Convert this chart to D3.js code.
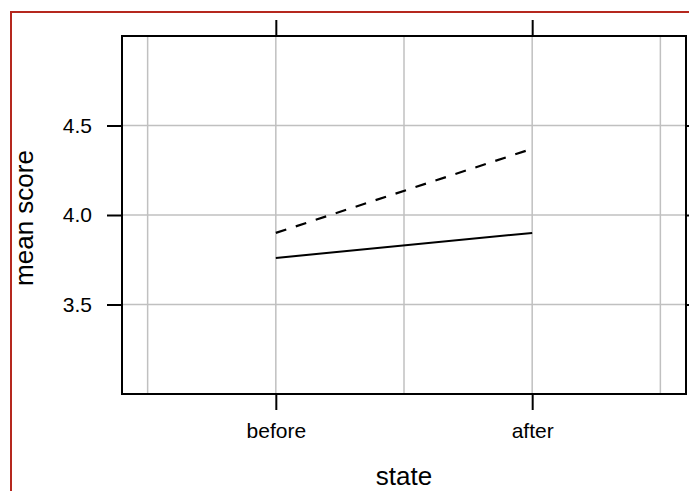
<!DOCTYPE html>
<html>
<head>
<meta charset="utf-8">
<script src="https://cdn.jsdelivr.net/npm/d3@7"></script>
<style>
  html, body { margin: 0; padding: 0; background: #fff; }
  svg { display: block; }
  text { font-family: "Liberation Sans", Arial, Helvetica, sans-serif; fill: #000; }
</style>
</head>
<body>
<svg id="chart" width="689" height="491"></svg>
<script>
// ---- data ----
const categories = ["before", "after"];
const seriesNames = ["group1", "group2"];
const solidValues = [3.76, 3.90];
const dashedValues = [3.90, 4.37];
const yTicks = [3.5, 4.0, 4.5];
const yTickLabels = ["3.5", "4.0", "4.5"];
const xGrid = [0.5, 1, 1.5, 2, 2.5];
const yGrid = [3.5, 4.0, 4.5];

const svg = d3.select("#chart");
const W = 689, H = 491;
const L = 122, T = 36, R = 686, B = 394;

// outer red frame
svg.append("rect")
  .attr("x", 11).attr("y", 12)
  .attr("width", W + 20).attr("height", H + 20)
  .attr("fill", "none").attr("stroke", "#b5281e").attr("stroke-width", 2);

const x = d3.scaleLinear().domain([0.4, 2.6]).range([L, R]);
const y = d3.scaleLinear().domain([3, 5]).range([B, T]);

// grid
const g = svg.append("g");
g.selectAll("line.vg").data(xGrid).join("line")
  .attr("x1", d => x(d)).attr("x2", d => x(d))
  .attr("y1", T).attr("y2", B)
  .attr("stroke", "#c0c0c0").attr("stroke-width", 1.5);
g.selectAll("line.hg").data(yGrid).join("line")
  .attr("x1", L).attr("x2", R)
  .attr("y1", d => y(d)).attr("y2", d => y(d))
  .attr("stroke", "#c0c0c0").attr("stroke-width", 1.5);

// axes
const catPos = categories.map((c, i) => i + 1);
const fmtCat = d => categories[d - 1];

const axisStyle = sel => {
  sel.select(".domain").remove();
  sel.selectAll(".tick line").attr("stroke", "#000").attr("stroke-width", 2);
  sel.selectAll(".tick text").style("font-size", "21px")
     .style("font-family", '"Liberation Sans", Arial, sans-serif').attr("fill", "#000");
};

svg.append("g").attr("transform", `translate(0,${B})`)
  .call(d3.axisBottom(x).tickValues(catPos).tickFormat(fmtCat).tickSize(16).tickPadding(13))
  .call(axisStyle);
svg.append("g").attr("transform", `translate(0,${T})`)
  .call(d3.axisTop(x).tickValues(catPos).tickFormat("").tickSize(16))
  .call(axisStyle);
svg.append("g").attr("transform", `translate(${L},0)`)
  .call(d3.axisLeft(y).tickValues(yTicks).tickFormat((d, i) => yTickLabels[i]).tickSize(15).tickPadding(15))
  .call(axisStyle);
svg.append("g").attr("transform", `translate(${R},0)`)
  .call(d3.axisRight(y).tickValues(yTicks).tickFormat("").tickSize(15))
  .call(axisStyle);

// panel border
svg.append("rect")
  .attr("x", L).attr("y", T).attr("width", R - L).attr("height", B - T)
  .attr("fill", "none").attr("stroke", "#000").attr("stroke-width", 2);

// lines
const line = d3.line().x((d, i) => x(i + 1)).y(d => y(d));
svg.append("path").datum(solidValues)
  .attr("d", line).attr("fill", "none").attr("stroke", "#000").attr("stroke-width", 2);
svg.append("path").datum(dashedValues)
  .attr("d", line).attr("fill", "none").attr("stroke", "#000").attr("stroke-width", 2.2)
  .attr("stroke-dasharray", "11,10");

// axis titles
svg.append("text").attr("x", (L + R) / 2).attr("y", 485)
  .attr("text-anchor", "middle").style("font-size", "26px").text("state");
svg.append("text")
  .attr("transform", `translate(33,${(T + B) / 2 + 3}) rotate(-90)`)
  .attr("text-anchor", "middle").style("font-size", "26px").text("mean score");
</script>
</body>
</html>
